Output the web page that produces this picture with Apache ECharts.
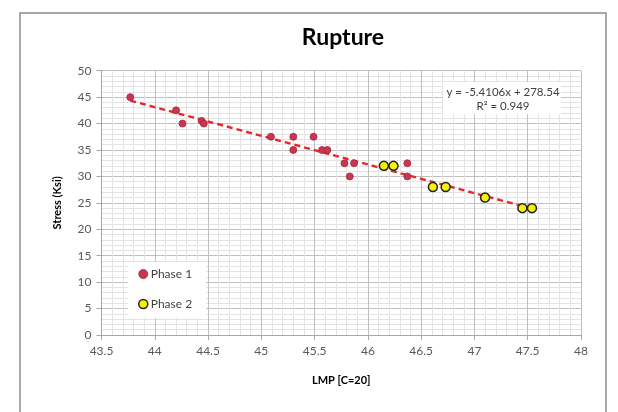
<!DOCTYPE html>
<html>
<head>
<meta charset="utf-8">
<script src="https://cdn.jsdelivr.net/npm/echarts@6/dist/echarts.min.js"></script>
<style>
  html, body { margin: 0; padding: 0; background: #ffffff; }
  #chart { width: 618px; height: 412px; }
</style>
</head>
<body>
<div id="chart"></div>
<script>
// LMP (C=20) and rupture stress (ksi) for each test phase
const phase1LMP    = [43.77, 44.20, 44.26, 44.44, 44.46, 45.09, 45.30, 45.30, 45.49, 45.57, 45.62, 45.78, 45.87, 45.83, 46.37, 46.37];
const phase1Stress = [45.0,  42.5,  40.0,  40.5,  40.0,  37.5,  37.5,  35.0,  37.5,  35.0,  35.0,  32.5,  32.5,  30.0,  32.5,  30.0];
const phase2LMP    = [46.15, 46.24, 46.61, 46.73, 47.10, 47.45, 47.54];
const phase2Stress = [32.0,  32.0,  28.0,  28.0,  26.0,  24.0,  24.0];

const xTicks = [43.5, 44, 44.5, 45, 45.5, 46, 46.5, 47, 47.5, 48];
const yTicks = [0, 5, 10, 15, 20, 25, 30, 35, 40, 45, 50];

const trendLabel = ['y = -5.4106x + 278.54', 'R\u00B2 = 0.949'];

// Linear least-squares trend over both phases
const allX = phase1LMP.concat(phase2LMP);
const allY = phase1Stress.concat(phase2Stress);
const n = allX.length;
const mx = allX.reduce((a, b) => a + b, 0) / n;
const my = allY.reduce((a, b) => a + b, 0) / n;
let sxy = 0, sxx = 0;
for (let i = 0; i < n; i++) { sxy += (allX[i] - mx) * (allY[i] - my); sxx += (allX[i] - mx) ** 2; }
const slope = sxy / sxx;
const intercept = my - slope * mx;
const xMin = Math.min(...allX), xMax = Math.max(...allX) + 0.03;
const trendData = [[xMin, intercept + slope * xMin], [xMax, intercept + slope * xMax]];

const FONT = 'Lato, "Open Sans", sans-serif';
const chart = echarts.init(document.getElementById('chart'), null, { renderer: 'canvas' });

chart.setOption({
  backgroundColor: '#ffffff',
  animation: false,
  grid: { left: 101.5, right: 37, top: 70.7, bottom: 77, containLabel: false },
  xAxis: {
    type: 'value', min: xTicks[0], max: xTicks[xTicks.length - 1], interval: 0.5,
    name: 'LMP [C=20]', nameLocation: 'middle', nameGap: 40,
    nameTextStyle: { fontFamily: FONT, fontWeight: 'bold', fontSize: 11, color: '#000000' },
    axisLine: { show: true, lineStyle: { color: '#a6a6a6' } },
    axisTick: { show: true, length: 5, lineStyle: { color: '#a6a6a6' } },
    axisLabel: { fontFamily: FONT, fontSize: 12, color: '#595959', margin: 10 },
    splitLine: { show: true, lineStyle: { color: '#bfbfbf', width: 1 } },
    minorTick: { show: false, splitNumber: 5 },
    minorSplitLine: { show: true, lineStyle: { color: '#e4e4e4', width: 1 } }
  },
  yAxis: {
    type: 'value', min: yTicks[0], max: yTicks[yTicks.length - 1], interval: 5,
    name: 'Stress (Ksi)', nameLocation: 'middle', nameGap: 39, nameRotate: 90,
    nameTextStyle: { fontFamily: FONT, fontWeight: 'bold', fontSize: 11, color: '#000000' },
    axisLine: { show: true, lineStyle: { color: '#a6a6a6' } },
    axisTick: { show: true, length: 5, lineStyle: { color: '#a6a6a6' } },
    axisLabel: { fontFamily: FONT, fontSize: 12, color: '#595959', margin: 10 },
    splitLine: { show: true, lineStyle: { color: '#bfbfbf', width: 1 } },
    minorTick: { show: false, splitNumber: 5 },
    minorSplitLine: { show: true, lineStyle: { color: '#e4e4e4', width: 1 } }
  },
  legend: {
    orient: 'vertical', left: 128, top: 262, width: 107,
    padding: [6, 14, 8, 10], itemGap: 18,
    backgroundColor: '#ffffff',
    itemWidth: 9, itemHeight: 9,
    textStyle: { fontFamily: FONT, fontSize: 12, color: '#404040', padding: [0, 0, 0, -2] },
    data: [
      { name: 'Phase 1', icon: 'circle', itemStyle: { color: '#c8364f', borderColor: '#a52a3f', borderWidth: 0.8 } },
      { name: 'Phase 2', icon: 'circle', itemStyle: { color: '#f5f20a', borderColor: '#222222', borderWidth: 1.5 } }
    ]
  },
  graphic: [
    {
      type: 'rect', x: 20, y: 13, z: -1, silent: true,
      shape: { width: 586, height: 410 },
      style: { fill: 'none', stroke: '#8c8c8c', lineWidth: 1.5 }
    },
    {
      type: 'text', x: 343, y: 26, z: 6, silent: true,
      style: {
        text: 'Rupture', align: 'center', verticalAlign: 'top',
        fontFamily: FONT, fontWeight: 'bold', fontSize: 23, fill: '#000000'
      }
    },
    {
      type: 'rect', x: 443, y: 82, z: 5, silent: true,
      shape: { width: 118, height: 32 },
      style: { fill: '#ffffff' }
    },
    {
      type: 'text', x: 503, y: 85, z: 6, silent: true,
      style: {
        text: trendLabel.join('\n'), align: 'center', verticalAlign: 'top',
        fontFamily: FONT, fontSize: 11.5, lineHeight: 14, fill: '#404040'
      }
    }
  ],
  series: [
    {
      name: 'Trend', type: 'line', data: trendData, symbol: 'none', z: 3,
      lineStyle: { color: '#e8262b', width: 2.4, type: [6, 4] }
    },
    {
      name: 'Phase 1', type: 'scatter', z: 4, symbolSize: 7,
      data: phase1LMP.map((x, i) => [x, phase1Stress[i]]),
      itemStyle: { color: '#c8364f', borderColor: '#a52a3f', borderWidth: 0.8, opacity: 1 }
    },
    {
      name: 'Phase 2', type: 'scatter', z: 4, symbolSize: 9,
      data: phase2LMP.map((x, i) => [x, phase2Stress[i]]),
      itemStyle: { color: '#f5f20a', borderColor: '#222222', borderWidth: 1.5, opacity: 1 }
    }
  ]
});
</script>
</body>
</html>
